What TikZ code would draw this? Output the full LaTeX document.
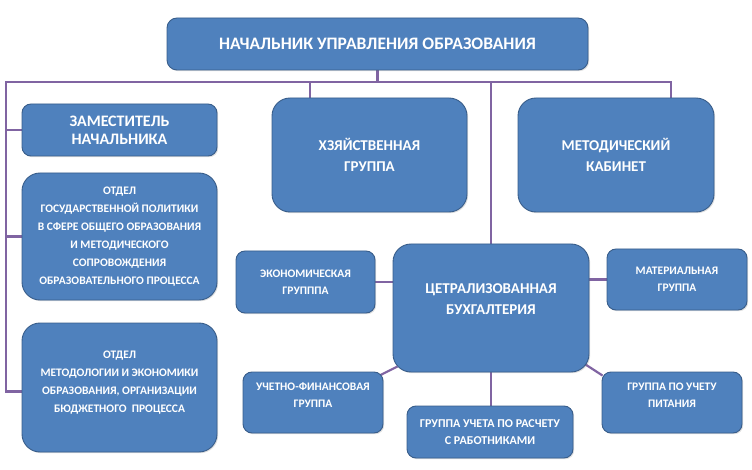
\documentclass[tikz,border=0pt]{standalone}
\usepackage{fontspec}
\setmainfont{Carlito}
\usetikzlibrary{positioning,calc,shadows,backgrounds}
\definecolor{BoxBlue}{RGB}{79,129,189}
\definecolor{BoxEdge}{RGB}{56,93,138}
\definecolor{LinkPurple}{RGB}{128,100,162}
\tikzset{
  box/.style={draw=BoxEdge,fill=BoxBlue,line width=0.9pt,text=white,align=center,inner sep=0pt,
    drop shadow={opacity=0.25,shadow xshift=1.2pt,shadow yshift=-1.2pt}},
  big/.style={box,rounded corners=18pt,font=\bfseries\fontsize{15}{21}\selectfont},
  small/.style={box,rounded corners=9pt,font=\bfseries\fontsize{11.5}{17}\selectfont},
  lbl/.style={text=white,align=center,inner sep=0pt},
  link/.style={draw=LinkPurple,line width=2.2pt},
}
\tikzset{bigtxt/.style={lbl,font=\bfseries\fontsize{15}{21}\selectfont},smalltxt/.style={lbl,font=\bfseries\fontsize{11.5}{17}\selectfont}}

\begin{document}
\begin{tikzpicture}[x=1pt,y=-1pt]
\useasboundingbox (0,0) rectangle (752,470);
\node[big,rounded corners=10pt,minimum width=421,minimum height=52,font=\bfseries\fontsize{17.5}{18}\selectfont] (head) at (377.5,44) {НАЧАЛЬНИК УПРАВЛЕНИЯ ОБРАЗОВАНИЯ};
\node[big,rounded corners=9pt,minimum width=195,minimum height=52,font=\bfseries\fontsize{16}{18}\selectfont] (zam) at (119.5,130) {ЗАМЕСТИТЕЛЬ\\НАЧАЛЬНИКА};
\node[small,rounded corners=18pt,minimum width=195,minimum height=127,font=\bfseries\fontsize{11.5}{18}\selectfont] (ogos) at (119.5,236.5) {ОТДЕЛ\\ГОСУДАРСТВЕННОЙ ПОЛИТИКИ\\В СФЕРЕ ОБЩЕГО ОБРАЗОВАНИЯ\\И МЕТОДИЧЕСКОГО\\СОПРОВОЖДЕНИЯ\\ОБРАЗОВАТЕЛЬНОГО ПРОЦЕССА};
\node[small,rounded corners=18pt,minimum width=195,minimum height=129,
  label={[smalltxt,font=\bfseries\fontsize{11.5}{18}\selectfont,yshift=5pt]center:{ОТДЕЛ\\МЕТОДОЛОГИИ И ЭКОНОМИКИ\\ОБРАЗОВАНИЯ, ОРГАНИЗАЦИИ\\БЮДЖЕТНОГО\ \ ПРОЦЕССА}}] (omet) at (119.5,387.5) {};
\node[big,minimum width=195,minimum height=114] (hoz) at (369.5,155) {ХЗЯЙСТВЕННАЯ\\ГРУППА};
\node[big,minimum width=196,minimum height=114] (metod) at (616,155) {МЕТОДИЧЕСКИЙ\\КАБИНЕТ};
\node[big,minimum width=196,minimum height=128,
  label={[bigtxt,yshift=9pt]center:{ЦЕТРАЛИЗОВАННАЯ\\БУХГАЛТЕРИЯ}}] (cb) at (491,308) {};
\node[small,minimum width=139,minimum height=62] (eco) at (305.5,282) {ЭКОНОМИЧЕСКАЯ\\ГРУПППА};
\node[small,minimum width=140,minimum height=61] (mat) at (677,279.5) {МАТЕРИАЛЬНАЯ\\ГРУППА};
\node[small,minimum width=140,minimum height=61,
  label={[smalltxt,yshift=7pt]center:{УЧЕТНО-ФИНАНСОВАЯ\\ГРУППА}}] (uchfin) at (313,402.5) {};
\node[small,minimum width=166,minimum height=52,font=\bfseries\fontsize{12}{17}\selectfont] (rasch) at (490,432) {ГРУППА УЧЕТА ПО РАСЧЕТУ\\С РАБОТНИКАМИ};
\node[small,minimum width=140,minimum height=61,
  label={[smalltxt,yshift=7pt]center:{ГРУППА ПО УЧЕТУ\\ПИТАНИЯ}}] (pit) at (672,402.5) {};
\begin{scope}[on background layer]
\coordinate (busL) at (6,82);
\coordinate (busR) at (671,82);
\coordinate (hozT) at (310,82);
\draw[link] (head.south) -- (head.south |- busL);
\draw[link] (busR |- metod.north) -- (busR) -- (busL) -- ([yshift=-4pt]busL |- omet.west) -- ([yshift=-4pt]omet.west);
\draw[link] (hozT) -- (hozT |- hoz.north);
\draw[link] (cb.north |- busL) -- (cb.north);
\draw[link] (busL |- zam.west) -- (zam.west);
\draw[link] (busL |- ogos.west) -- (ogos.west);
\draw[link] (eco.east) -- (eco.east -| cb.west);
\draw[link] (mat.west) -- (mat.west -| cb.east);
\draw[link] ([shift={(5,-6)}]cb.south west) -- ([shift={(-4,4)}]uchfin.north east);
\draw[link] ([shift={(-4,-8)}]cb.south east) -- ([shift={(1,4)}]pit.north west);
\draw[link] (cb.south) -- (cb.south |- rasch.north);
\end{scope}
\end{tikzpicture}
\end{document}
